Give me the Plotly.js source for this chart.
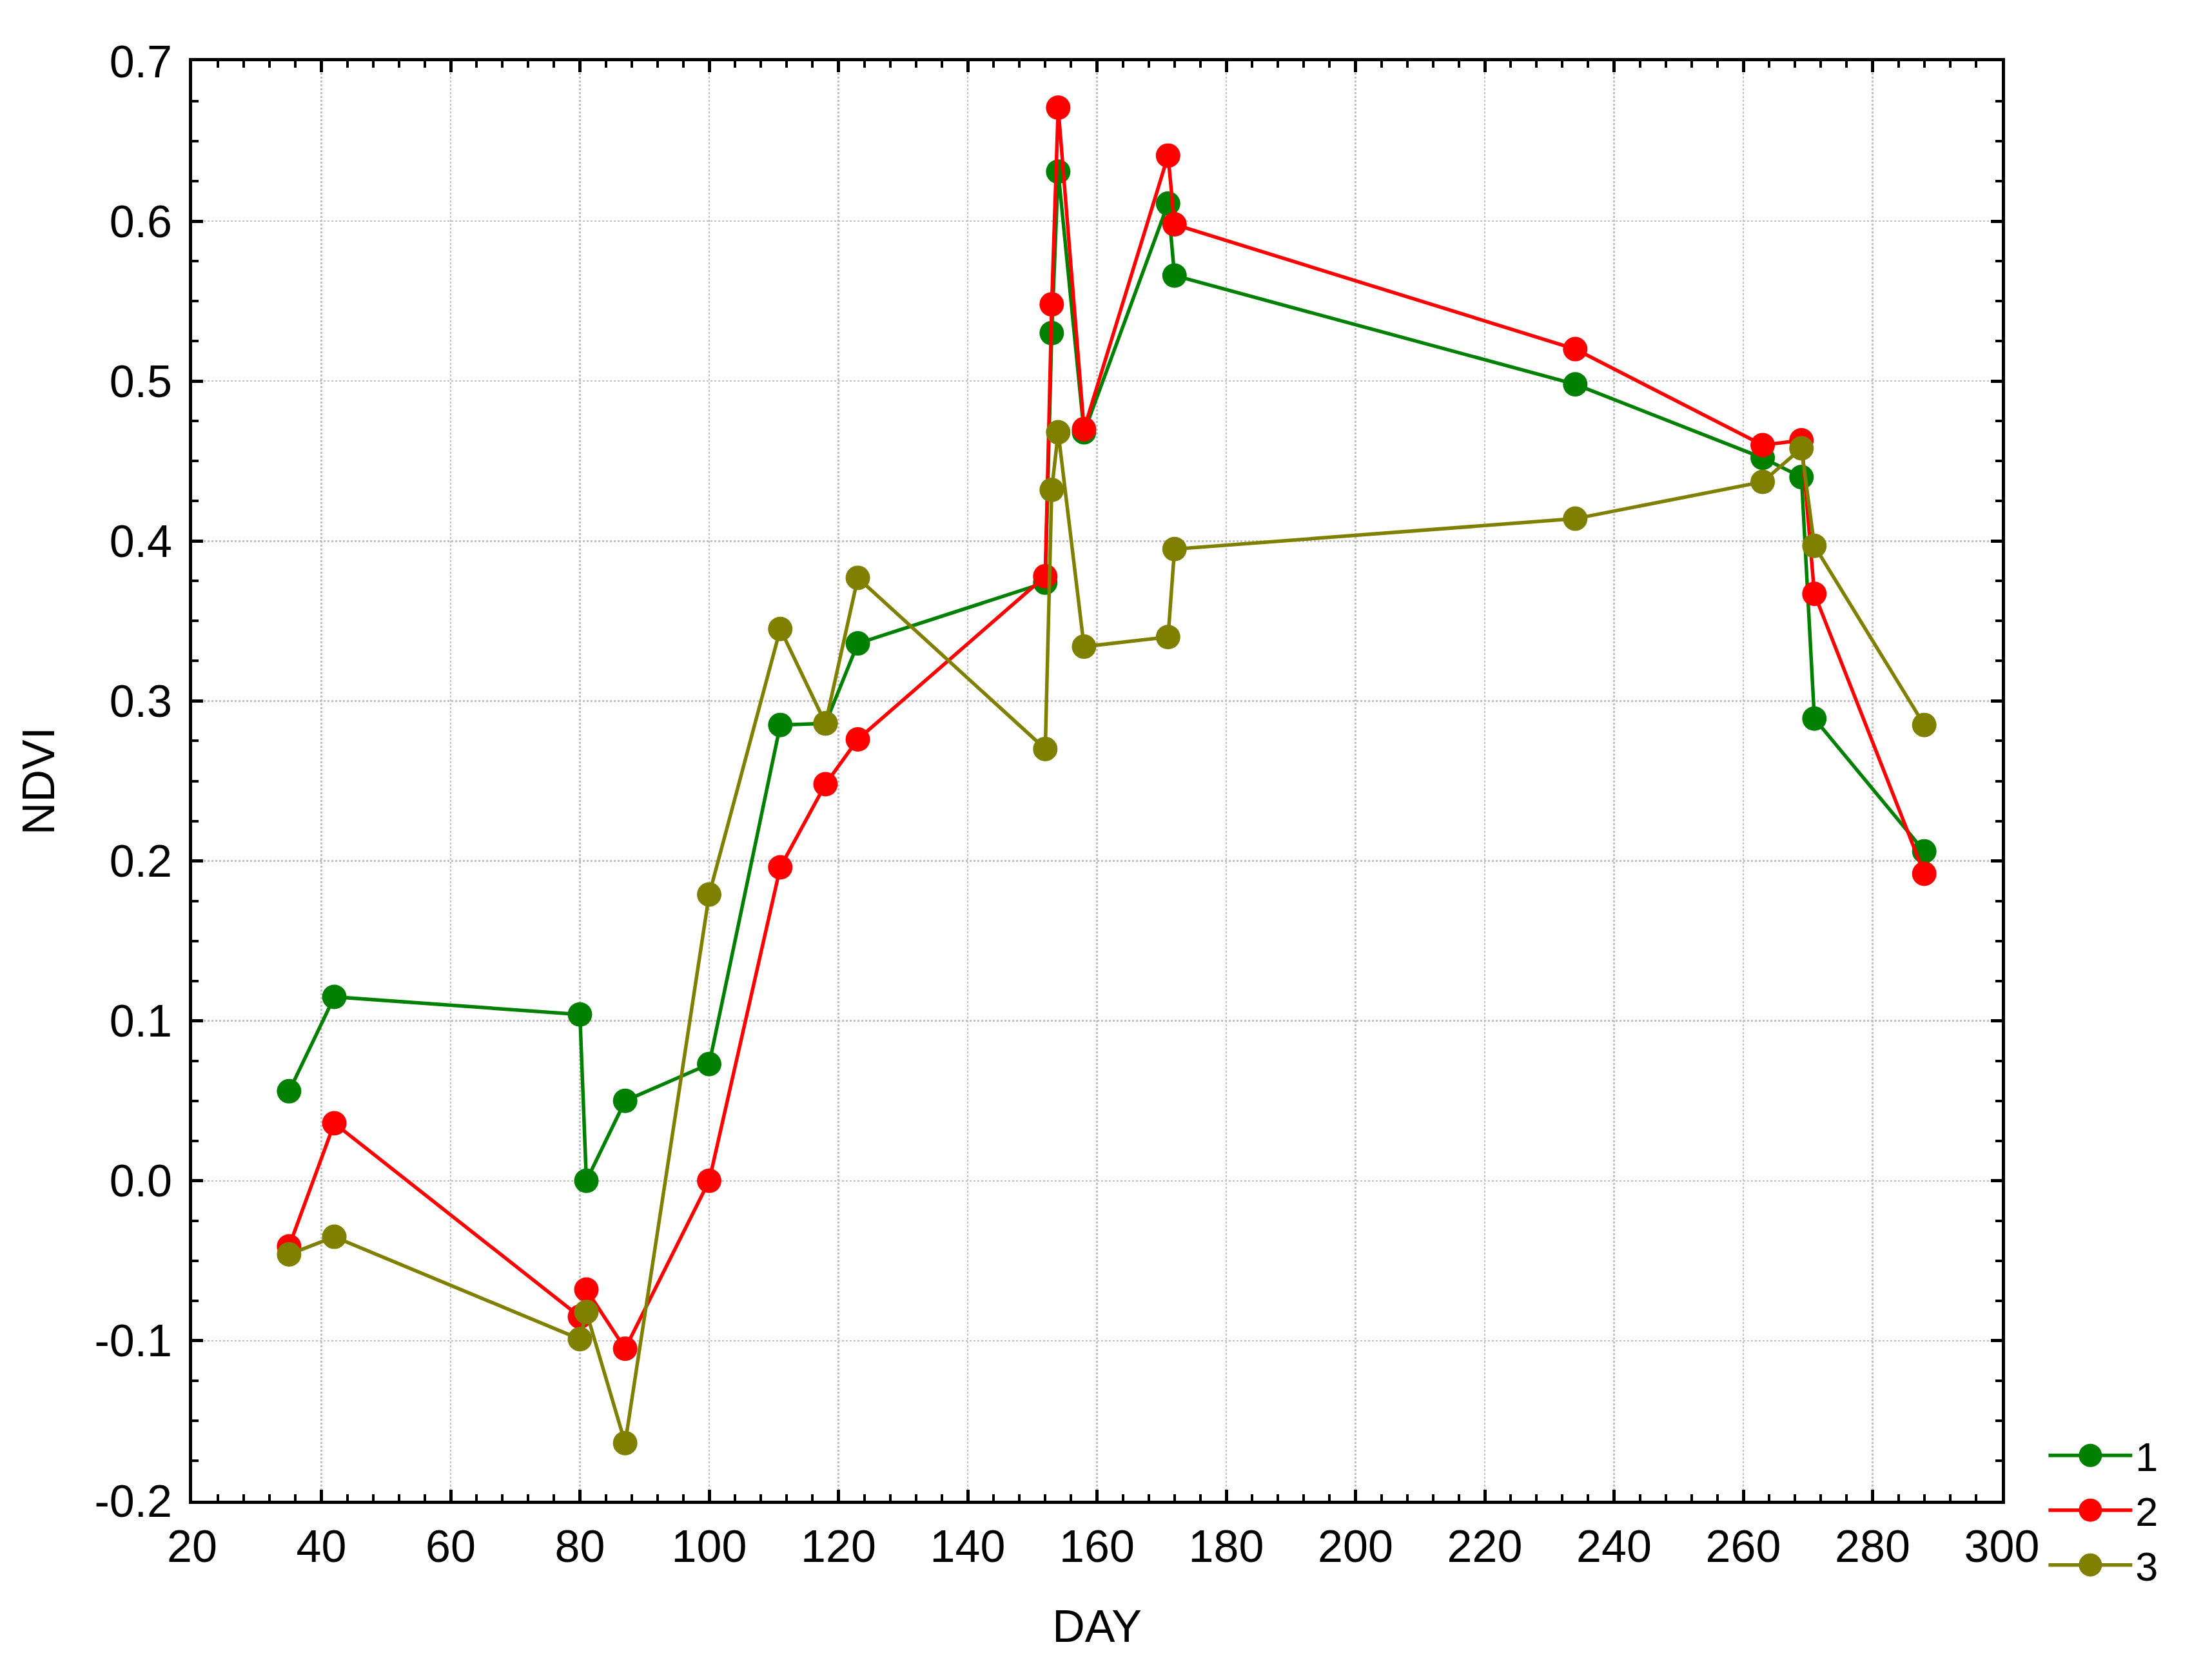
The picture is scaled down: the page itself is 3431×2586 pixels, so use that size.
<!DOCTYPE html>
<html>
<head>
<meta charset="utf-8">
<script src="https://cdn.plot.ly/plotly-3.0.1.min.js"></script>
<style>
  html, body { margin: 0; padding: 0; background: #fff; }
</style>
</head>
<body>
<div id="chart"></div>
<script>
const days = [35, 42, 80, 81, 87, 100, 111, 118, 123, 152, 153, 154, 158, 171, 172, 234, 263, 269, 271, 288];
const ndvi1 = [0.056, 0.115, 0.104, 0.000, 0.050, 0.073, 0.285, 0.286, 0.336, 0.374, 0.530, 0.631, 0.468, 0.611, 0.566, 0.498, 0.452, 0.440, 0.289, 0.206];
const ndvi2 = [-0.041, 0.036, -0.085, -0.068, -0.105, 0.000, 0.196, 0.248, 0.276, 0.378, 0.548, 0.671, 0.470, 0.641, 0.598, 0.520, 0.460, 0.463, 0.367, 0.192];
const ndvi3 = [-0.046, -0.035, -0.099, -0.082, -0.164, 0.179, 0.345, 0.286, 0.377, 0.270, 0.432, 0.468, 0.334, 0.340, 0.395, 0.414, 0.437, 0.458, 0.397, 0.285];
const names = ['1', '2', '3'];
const colors = ['#008000', '#ff0000', '#808000'];

// y tick labels written with a plain hyphen, as in the original
const yTicks = [-0.2, -0.1, 0.0, 0.1, 0.2, 0.3, 0.4, 0.5, 0.6, 0.7];
const yTickText = ['-0.2', '-0.1', '0.0', '0.1', '0.2', '0.3', '0.4', '0.5', '0.6', '0.7'];

const font = 'Liberation Sans, Arial, sans-serif';

function series(y, i) {
  return {
    x: days,
    y: y,
    name: names[i],
    mode: 'lines+markers',
    type: 'scatter',
    line: { color: colors[i], width: 5.5 },
    marker: { color: colors[i], size: 38 }
  };
}

function axis(extra) {
  return Object.assign({
    showline: true,
    linecolor: '#000',
    linewidth: 5,
    mirror: 'allticks',
    ticks: 'inside',
    ticklen: 17,
    tickwidth: 5,
    tickcolor: '#000',
    showgrid: true,
    gridcolor: '#c0c0c0',
    gridwidth: 2.5,
    griddash: 'dot',
    zeroline: false,
    tickfont: { family: font, size: 70, color: '#000' }
  }, extra);
}

const layout = {
  width: 3431,
  height: 2586,
  margin: { l: 298, r: 326, t: 95, b: 258, pad: 0 },
  paper_bgcolor: '#fff',
  plot_bgcolor: '#fff',
  font: { family: font, color: '#000', size: 70 },
  showlegend: true,
  legend: {
    x: 1.024,
    xanchor: 'left',
    y: -0.066,
    yanchor: 'bottom',
    font: { family: font, size: 63, color: '#000' },
    itemwidth: 130,
    tracegroupgap: 0,
    bgcolor: 'rgba(0,0,0,0)'
  },
  xaxis: axis({
    range: [20, 300],
    tick0: 20,
    dtick: 20,
    ticklabelstandoff: 6,
    minor: { dtick: 4, ticks: 'inside', ticklen: 10, tickwidth: 4, tickcolor: '#000', showgrid: false },
    title: { text: 'DAY', font: { family: font, size: 70 }, standoff: 62 }
  }),
  yaxis: axis({
    range: [-0.2, 0.7],
    tickmode: 'array',
    tickvals: yTicks,
    ticktext: yTickText,
    ticklabelstandoff: 12,
    minor: { dtick: 0.025, tick0: -0.2, ticks: 'inside', ticklen: 10, tickwidth: 4, tickcolor: '#000', showgrid: false },
    title: { text: 'NDVI', font: { family: font, size: 70 }, standoff: 40 }
  })
};

const data = [series(ndvi1, 0), series(ndvi2, 1), series(ndvi3, 2)];

Plotly.newPlot('chart', data, layout, { displayModeBar: false, staticPlot: true }).then(function () {
  // plotly caps legend marker size, enlarge the legend dots to match the plot markers
  const r = 18;
  document.querySelectorAll('.legend .legendpoints path.scatterpts').forEach(function (p) {
    p.setAttribute('d', 'M' + r + ',0A' + r + ',' + r + ' 0 1,1 0,-' + r + 'A' + r + ',' + r + ' 0 0,1 ' + r + ',0Z');
  });
});
</script>
</body>
</html>
